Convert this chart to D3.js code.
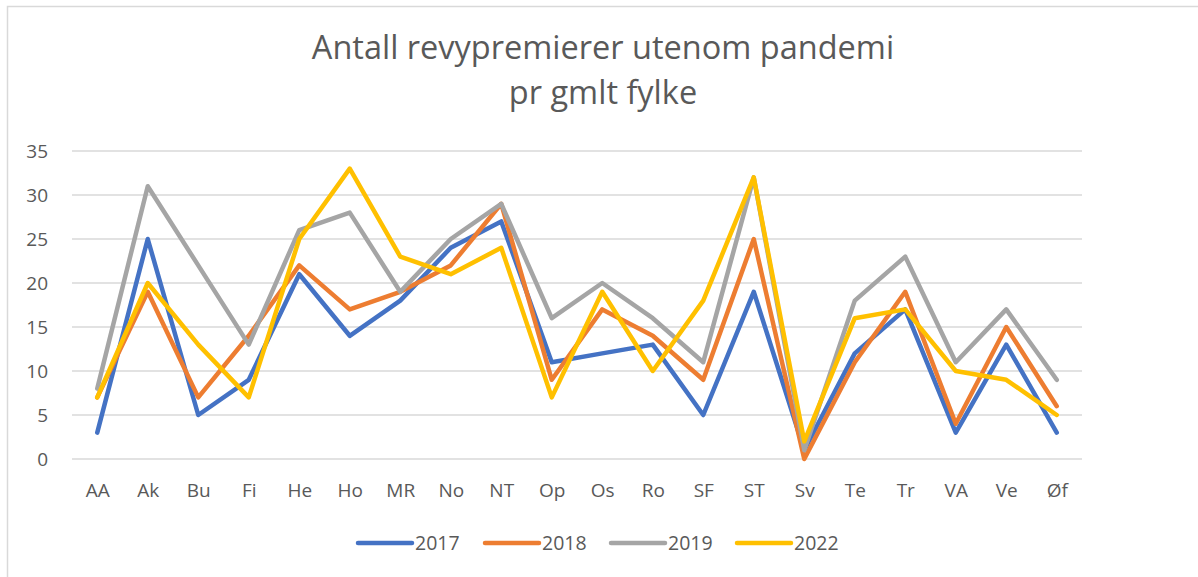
<!DOCTYPE html>
<html>
<head>
<meta charset="utf-8">
<script src="https://cdn.jsdelivr.net/npm/d3@7"></script>
<style>
  body { margin: 0; background: #fff; }
  text { font-family: "Open Sans", "Noto Sans", sans-serif; fill: #595959; }
</style>
</head>
<body>
<svg id="chart" width="1198" height="577"></svg>
<script>
// fylker (short names)
const fylker = ["AA","Ak","Bu","Fi","He","Ho","MR","No","NT","Op","Os","Ro","SF","ST","Sv","Te","Tr","VA","Ve","Øf"];

const v2017 = [3,25,5,9,21,14,18,24,27,11,12,13,5,19,1,12,17,3,13,3];
const v2018 = [7,19,7,14,22,17,19,22,29,9,17,14,9,25,0,11,19,4,15,6];
const v2019 = [8,31,22,13,26,28,19,25,29,16,20,16,11,32,1,18,23,11,17,9];
const v2022 = [7,20,13,7,25,33,23,21,24,7,19,10,18,32,2,16,17,10,9,5];

const yTicks = [0,5,10,15,20,25,30,35];

const series = [
  {name: "2017", values: v2017, color: "#4472C4"},
  {name: "2018", values: v2018, color: "#ED7D31"},
  {name: "2019", values: v2019, color: "#A5A5A5"},
  {name: "2022", values: v2022, color: "#FFC000"}
];

const svg = d3.select("#chart");

// outer chart border
svg.append("rect")
  .attr("x", 7.5).attr("y", 6.5)
  .attr("width", 1198).attr("height", 600)
  .attr("fill", "none")
  .attr("stroke", "#d9d9d9")
  .attr("stroke-width", 1.5);

const plotL = 72, plotR = 1082, plotT = 151, plotB = 459;

const x = d3.scalePoint().domain(fylker).range([plotL, plotR]).padding(0.5);
const y = d3.scaleLinear().domain([0, 35]).range([plotB, plotT]);

// title
const title = svg.append("text")
  .attr("text-anchor", "middle")
  .style("font-size", "32.5px");
title.append("tspan").attr("x", 603).attr("y", 59).text("Antall revypremierer utenom pandemi");
title.append("tspan").attr("x", 603).attr("y", 104).text("pr gmlt fylke");

// gridlines
svg.append("g")
  .selectAll("line")
  .data(yTicks)
  .join("line")
  .attr("x1", plotL).attr("x2", plotR)
  .attr("y1", d => y(d)).attr("y2", d => y(d))
  .attr("stroke", "#d9d9d9")
  .attr("stroke-width", 1.5);

// y axis labels
const yAxis = d3.axisLeft(y).tickValues(yTicks).tickSize(0).tickPadding(0);
svg.append("g")
  .attr("transform", `translate(48,0)`)
  .call(yAxis)
  .call(g => g.select(".domain").remove())
  .call(g => g.selectAll("text").attr("fill", "#595959").style("font-size", "19px")
    .style("font-family", '"Open Sans", sans-serif'));

// x axis labels
const xAxis = d3.axisBottom(x).tickSize(0).tickPadding(0);
svg.append("g")
  .attr("transform", `translate(0,497)`)
  .call(xAxis)
  .call(g => g.select(".domain").remove())
  .call(g => g.selectAll("text").attr("y", 0).attr("dy", null)
    .attr("fill", "#595959").style("font-size", "19px")
    .style("font-family", '"Open Sans", sans-serif'));

// lines
const line = d3.line()
  .x((d, i) => x(fylker[i]))
  .y(d => y(d));

svg.append("g")
  .selectAll("path")
  .data(series)
  .join("path")
  .attr("d", d => line(d.values))
  .attr("fill", "none")
  .attr("stroke", d => d.color)
  .attr("stroke-width", 4.5)
  .attr("stroke-linejoin", "round")
  .attr("stroke-linecap", "round");

// legend
const legX = [358, 485, 611, 737];
const leg = svg.append("g")
  .selectAll("g")
  .data(series)
  .join("g")
  .attr("transform", (d, i) => `translate(${legX[i]},543)`);
leg.append("line")
  .attr("x1", 0).attr("x2", 54)
  .attr("stroke", d => d.color)
  .attr("stroke-width", 4.5)
  .attr("stroke-linecap", "round");
leg.append("text")
  .attr("x", 57).attr("y", 7)
  .style("font-size", "19.5px")
  .text(d => d.name);
</script>
</body>
</html>
